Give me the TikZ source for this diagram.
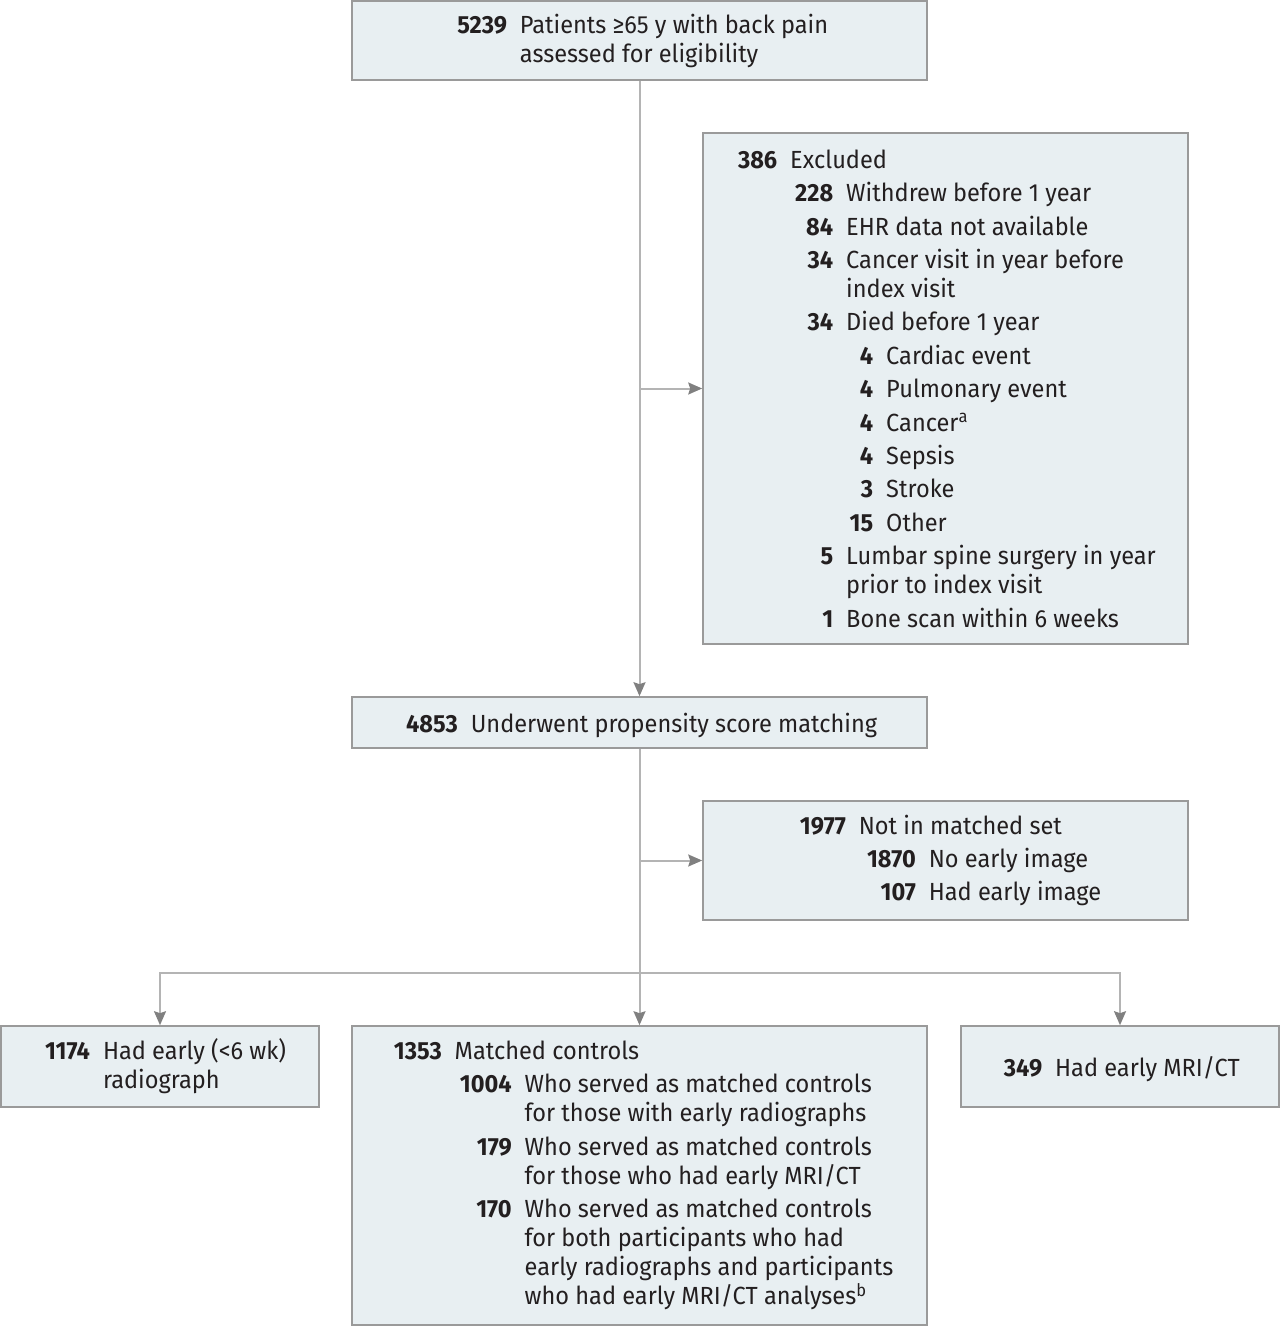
\documentclass[tikz,border=0pt]{standalone}
\usepackage{fontspec}
\setmainfont{Fira Sans}[FakeStretch=0.95]
\usetikzlibrary {arrows.meta}

\definecolor{boxfill}{HTML}{E8EFF2}
\definecolor{boxline}{HTML}{9A9A9A}
\definecolor{connline}{HTML}{B4B4B4}
\definecolor{tipgray}{HTML}{808080}
\definecolor{inktext}{HTML}{231F20}

% 1 px of the reference = 0.5pt
\newlength{\px}
\setlength{\px}{0.5pt}
\newcommand{\cnt}[2]{\makebox[#1\px][r]{\bfseries #2}\hspace{13\px}}
\newcommand{\cont}[1]{\makebox[#1\px]{}\hspace{13\px}}

\begin{document}
\begin{tikzpicture}[x=0.5pt, y=-0.5pt,
    font=\fontsize{12.4}{14.5}\selectfont\color{inktext},
    flowbox/.style={draw=boxline, fill=boxfill, line width=0.8pt, align=left, inner sep=0pt,
      execute at begin node=\rule{0pt}{12.4pt}},
    conn/.style={draw=connline, line width=1pt},
    arr/.style={conn, -{Stealth[length=7pt, width=6pt, inset=1pt, color=tipgray, fill=tipgray]}}]
  % flow of patients, propensity matching
    \useasboundingbox (0,0) rectangle (1280,1326);

    \node[flowbox, minimum width=575\px, minimum height=79\px] (elig) at (639.5,40.5)
      {\cnt{56}{5239}Patients ≥65 y with back pain\\
       \cont{56}assessed for eligibility};

    \node[flowbox, minimum width=485\px, minimum height=511\px] (excl) at (945.5,388.5)
      {\cnt{42}{386}Excluded\\[2.2pt]
       \cnt{98}{228}Withdrew before 1 year\\[2.2pt]
       \cnt{98}{84}EHR data not available\\[2.2pt]
       \cnt{98}{34}Cancer visit in year before\\
       \cont{98}index visit\\[2.2pt]
       \cnt{98}{34}Died before 1 year\\[2.2pt]
       \cnt{138}{4}Cardiac event\\[2.2pt]
       \cnt{138}{4}Pulmonary event\\[2.2pt]
       \cnt{138}{4}Cancer\textsuperscript{a}\\[2.2pt]
       \cnt{138}{4}Sepsis\\[2.2pt]
       \cnt{138}{3}Stroke\\[2.2pt]
       \cnt{138}{15}Other\\[2.2pt]
       \cnt{98}{5}Lumbar spine surgery in year\\
       \cont{98}prior to index visit\\[2.2pt]
       \cnt{98}{1}Bone scan within 6 weeks};

    \node[flowbox, minimum width=575\px, minimum height=51\px] (psm) at (639.5,722.5)
      {\cnt{56}{4853}Underwent propensity score matching};

    \node[flowbox, minimum width=485\px, minimum height=119\px] (nomatch) at (945.5,860.5)
      {\cnt{56}{1977}Not in matched set\\[2.2pt]
       \cnt{126}{1870}No early image\\[2.2pt]
       \cnt{126}{107}Had early image};

    \node[flowbox, minimum width=318\px, minimum height=81\px] (radio) at (160,1066.5)
      {\cnt{56}{1174}Had early (<6 wk)\\
       \cont{56}radiograph};

    \node[flowbox, minimum width=575\px, minimum height=299\px] (ctrl) at (639.5,1175.5)
      {\cnt{56}{1353}Matched controls\\[2.2pt]
       \cnt{126}{1004}Who served as matched controls\\
       \cont{126}for those with early radiographs\\[2.2pt]
       \cnt{126}{179}Who served as matched controls\\
       \cont{126}for those who had early MRI/CT\\[2.2pt]
       \cnt{126}{170}Who served as matched controls\\
       \cont{126}for both participants who had\\
       \cont{126}early radiographs and participants\\
       \cont{126}who had early MRI/CT analyses\textsuperscript{b}};

    \node[flowbox, minimum width=318\px, minimum height=81\px] (mri) at (1120,1066.5)
      {\cnt{42}{349}Had early MRI/CT};

    \coordinate (split) at (639.5,973);

    \draw[arr] (elig) -- (psm);
    \draw[arr] (elig.south |- excl.west) -- (excl.west);
    \draw[arr] (psm) -- (ctrl);
    \draw[arr] (psm.south |- nomatch.west) -- (nomatch.west);
    \draw[arr] (split) -| (radio);
    \draw[arr] (split) -| (mri);
\end{tikzpicture}
\end{document}
